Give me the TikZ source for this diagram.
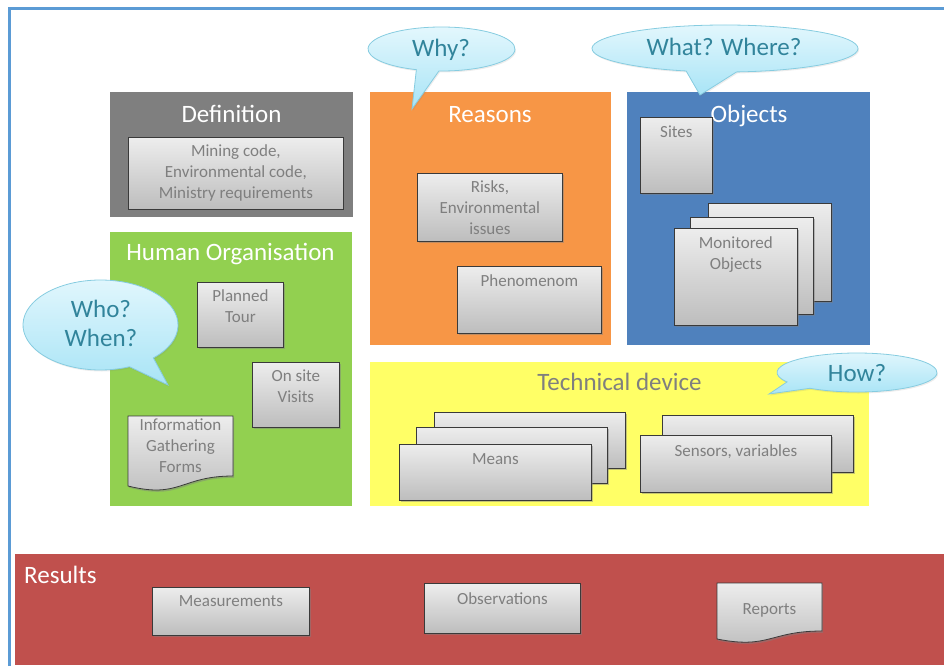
\documentclass[tikz,border=0pt]{standalone}
\usepackage{fontspec}
\setmainfont{Carlito}
\usetikzlibrary{positioning,calc,shadows}

\definecolor{framebl}{HTML}{5B9BD5}
\definecolor{defgray}{HTML}{7F7F7F}
\definecolor{hogreen}{HTML}{92D050}
\definecolor{reaorange}{HTML}{F79646}
\definecolor{objblue}{HTML}{4F81BD}
\definecolor{techyellow}{HTML}{FFFF66}
\definecolor{resred}{HTML}{C0504D}
\definecolor{boxtop}{HTML}{EDEDED}
\definecolor{boxbot}{HTML}{BDBDBD}
\definecolor{boxline}{HTML}{3A3A3A}
\definecolor{boxtxt}{HTML}{7F7F7F}
\definecolor{bubtop}{HTML}{E3F7FD}
\definecolor{bubbot}{HTML}{A8E4F6}
\definecolor{bubline}{HTML}{86CCE0}
\definecolor{bubtxt}{HTML}{31849B}

\begin{document}
\begin{tikzpicture}[x=1pt, y=-1pt,
    panel/.style={anchor=north west, inner sep=0pt, outer sep=0pt},
    title/.style={anchor=base, inner sep=0pt, text=white, font=\fontsize{25}{30}\selectfont},
    box/.style={anchor=north west, draw=boxline, line width=0.8pt, top color=boxtop, bottom color=boxbot,
        inner sep=0pt, drop shadow={shadow xshift=1.2pt, shadow yshift=-1.8pt, opacity=0.45},
        align=center, text=boxtxt, font=\fontsize{17}{21}\selectfont},
    boxtext/.style={anchor=north, inner sep=0pt, align=center, text=boxtxt, font=\fontsize{17}{21}\selectfont},
    docbox/.style={draw=boxline, line width=0.8pt, top color=boxtop, bottom color=boxbot,
        drop shadow={shadow xshift=1.2pt, shadow yshift=-1.8pt, opacity=0.45}},
    bubble/.style={draw=bubline, line width=0.8pt, top color=bubtop, bottom color=bubbot,
        drop shadow={shadow xshift=1pt, shadow yshift=-1.5pt, opacity=0.15}},
    bubtext/.style={inner sep=0pt, align=center, text=bubtxt, font=\fontsize{25}{29}\selectfont}
]
\useasboundingbox (0,0) rectangle (944,666);

% frame
\draw[framebl, line width=3pt] (9,666) -- (9,9) -- (944,9);

% panels
\node[panel, fill=defgray, minimum width=243pt, minimum height=125pt] (definition) at (110,92) {};
\node[panel, fill=hogreen, minimum width=242pt, minimum height=274pt] (human) at (110,232) {};
\node[panel, fill=reaorange, minimum width=241pt, minimum height=253pt] (reasons) at (370,92) {};
\node[panel, fill=objblue, minimum width=243pt, minimum height=253pt] (objects) at (627,92) {};
\node[panel, fill=techyellow, minimum width=499pt, minimum height=144pt] (technical) at (370,362) {};
\node[panel, fill=resred, minimum width=929pt, minimum height=111pt] (results) at (15,554) {};

% titles
\node[title] (deftitle) at (231.5,122.5) {Definition};
\node[title] (hotitle) at (230.5,260) {Human Organisation};
\node[title] (reatitle) at (490,122) {Reasons};
\node[title] (objtitle) at (749,122) {Objects};
\node[title, text=defgray] (techtitle) at (619.5,390) {Technical device};
\node[title, anchor=base west] (restitle) at (24,583) {Results};

% definition
\node[box, minimum width=215pt, minimum height=72pt] (legal) at (128,137)
    {Mining code,\\Environmental code,\\Ministry requirements};

% human organisation
\node[box, minimum width=86pt, minimum height=65pt] (tour) at (197,282) {};
\node[boxtext, below=7pt of tour.north] (tourtext) {Planned\\Tour};
\node[box, minimum width=87pt, minimum height=65pt] (visits) at (252,362) {};
\node[boxtext, below=8pt of visits.north] (visitstext) {On site\\Visits};
\path[docbox] (128,416) -- (233,416) -- (233,476) .. controls (180.5,476) and (180.5,499) .. (128,486) -- cycle;
\node[boxtext] (forms) at (180.5,419) {Information\\Gathering\\Forms};

% reasons
\node[box, minimum width=145pt, minimum height=68pt] (risks) at (417,173) {Risks,\\Environmental\\issues};
\node[box, minimum width=144pt, minimum height=67pt] (phen) at (457,266) {};
\node[boxtext, below=8pt of phen.north] (phentext) {Phenomenom};

% objects
\node[box, minimum width=72pt, minimum height=76pt] (sites) at (640,117) {};
\node[boxtext, below=9pt of sites.north] (sitestext) {Sites};
\node[box, minimum width=123pt, minimum height=98pt] (mon3) at (708,203) {};
\node[box, minimum width=123pt, minimum height=97pt] (mon2) at (690,217) {};
\node[box, minimum width=123pt, minimum height=97pt] (mon1) at (674,228) {};
\node[boxtext, below=8pt of mon1.north] (montext) {Monitored\\Objects};

% technical device
\node[box, minimum width=191pt, minimum height=56pt] (means3) at (434,412) {};
\node[box, minimum width=191pt, minimum height=56pt] (means2) at (416,427) {};
\node[box, minimum width=192pt, minimum height=56pt] (means1) at (399,444) {};
\node[boxtext, below=9pt of means1.north] (meanstext) {Means};
\node[box, minimum width=191pt, minimum height=57pt] (sens2) at (662,415) {};
\node[box, minimum width=191pt, minimum height=57pt] (sens1) at (640,435) {};
\node[boxtext, below=9pt of sens1.north] (senstext) {Sensors, variables};

% results
\node[box, minimum width=157pt, minimum height=48pt] (meas) at (152,587) {};
\node[boxtext, below=8pt of meas.north] (meastext) {Measurements};
\node[box, minimum width=156pt, minimum height=50pt] (obs) at (424,583) {};
\node[boxtext, below=9pt of obs.north] (obstext) {Observations};
\path[docbox] (717,583) -- (822,583) -- (822,631) .. controls (769.5,631) and (769.5,649.4) .. (717,639) -- cycle;
\node[boxtext] (reports) at (769.5,603) {Reports};

% callouts
\coordinate (whyc) at (441.5,49);
\path[bubble] ($(whyc)+(268:73.5pt and 22pt)$)
    arc[start angle=268, end angle=610, x radius=73.5pt, y radius=22pt] -- (412,109) -- cycle;
\node[bubtext, anchor=base] (why) at (441,56.5) {Why?};

\coordinate (whatc) at (725,48.5);
\path[bubble] ($(whatc)+(275:133pt and 23.5pt)$)
    arc[start angle=275, end angle=613, x radius=133pt, y radius=23.5pt] -- (700,95) -- cycle;
\node[bubtext, anchor=base] (what) at (724,56) {What? Where?};

\coordinate (whoc) at (100.5,325);
\path[bubble] ($(whoc)+(313:77.5pt and 45pt)$)
    arc[start angle=313, end angle=652, x radius=77.5pt, y radius=45pt] -- (168,385) -- cycle;
\node[bubtext] (who) at (101,323) {Who?\\When?};

\coordinate (howc) at (857,372.5);
\path[bubble] ($(howc)+(234:80pt and 19.5pt)$)
    arc[start angle=234, end angle=569, x radius=80pt, y radius=19.5pt] -- (769,394) -- cycle;
\node[bubtext, anchor=base] (how) at (857,381.5) {How?};

\end{tikzpicture}
\end{document}
